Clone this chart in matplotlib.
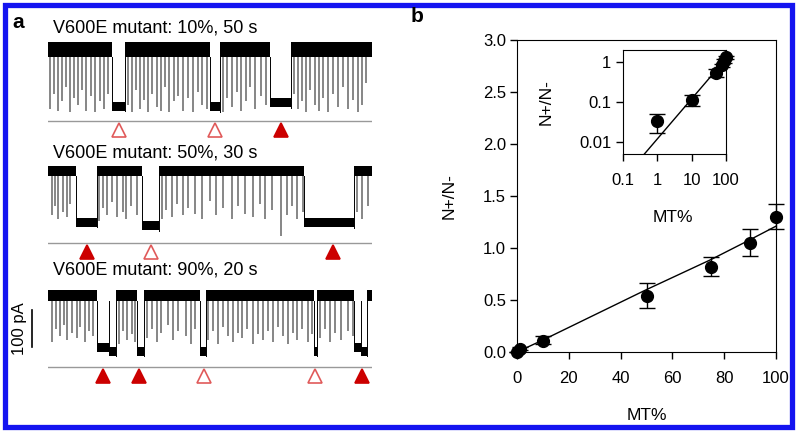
import numpy as np
import matplotlib.pyplot as plt
from matplotlib.patches import Rectangle

plt.rcParams['font.family'] = ['Liberation Sans', 'DejaVu Sans']

# ---------------- panel a: current traces ----------------
titles = ['V600E mutant: 10%, 50 s', 'V600E mutant: 50%, 30 s', 'V600E mutant: 90%, 20 s']
durations = [50, 30, 20]

# trace 1 (10 %)
t1_block_start = [9.9, 25.0, 34.3]
t1_block_end = [11.9, 26.5, 37.5]
t1_block_level = [-153, -154, -143]
t1_spike_t = [0.3, 0.9, 1.5, 2.2, 2.8, 3.4, 4.0, 4.6, 5.3, 5.9, 6.6, 7.3, 8.0, 8.6, 9.3,
              12.4, 13.0, 13.6, 14.2, 14.8, 15.4, 16.1, 16.8, 17.4, 18.0, 18.7, 19.4, 20.0,
              20.8, 21.6, 22.3, 23.1, 23.8, 24.5,
              27.0, 27.7, 28.4, 29.1, 29.8, 30.5, 31.2, 32.0, 32.8, 33.6,
              38.0, 38.6, 39.2, 39.8, 40.5, 41.2, 41.8, 42.5, 43.2, 44.0, 44.7, 45.5, 46.3,
              47.0, 47.8, 48.5, 49.0]
t1_spike_depth = [160, 120, 165, 140, 100, 170, 130, 150, 110, 165, 125, 170, 140, 160, 120,
                  150, 170, 110, 160, 135, 170, 120, 155, 165, 100, 170, 140, 125,
                  165, 130, 170, 115, 150, 160,
                  170, 130, 155, 115, 165, 140, 100, 160, 125, 150,
                  120, 160, 140, 170, 110, 150, 165, 130, 170, 120, 155, 100, 160,
                  135, 170, 150, 90]
t1_mark_t = [10.9, 25.75, 35.9]
t1_mark_filled = [False, False, True]

# trace 2 (50 %)
t2_block_start = [2.6, 8.7, 23.7]
t2_block_end = [4.5, 10.3, 28.3]
t2_block_level = [-138, -147, -140]
t2_spike_t = [0.4, 0.65, 0.95, 1.4, 1.75, 2.05,
              4.7, 5.1, 5.5, 5.9, 6.4, 6.9, 7.2, 7.7, 8.2,
              10.6, 10.9, 11.5, 11.9, 12.5, 13.0, 13.6, 14.3,
              15.0, 15.6, 16.2, 17.0, 17.6, 18.2, 19.0, 19.6, 20.1, 20.7, 21.6, 22.1,
              22.6, 23.1, 23.6,
              28.6, 29.1, 29.6]
t2_spike_depth = [120, 95, 130, 110, 125, 90,
                  135, 100, 120, 85, 125, 110, 130, 95, 120,
                  130, 105, 125, 90, 120, 100, 115, 130,
                  80, 120, 100, 130, 95, 115, 125, 90, 130, 105, 175, 120,
                  95, 130, 110,
                  110, 130, 95]
t2_mark_t = [3.6, 9.5, 26.4]
t2_mark_filled = [True, False, True]

# trace 3 (90 %)
t3_block_start = [3.0, 3.75, 5.5, 9.4, 16.4, 18.9, 19.3]
t3_block_end = [3.75, 4.2, 5.9, 9.75, 16.6, 19.3, 19.7]
t3_block_level = [-140, -150, -150, -150, -150, -140, -150]
t3_spike_t = [0.25, 0.5, 0.75, 1.0, 1.2, 1.5, 1.8, 2.0, 2.3, 2.5, 2.8,
              4.4, 4.6, 4.9, 5.2, 5.4,
              6.1, 6.4, 6.7, 7.0, 7.4, 7.7, 8.0, 8.5, 8.8, 9.1,
              9.9, 10.2, 10.5, 10.8, 11.1, 11.4, 11.7, 12.0, 12.3, 12.65, 12.95, 13.3,
              13.6, 13.9, 14.2, 14.5, 14.8, 15.1, 15.4, 15.7, 16.05, 16.3,
              16.8, 17.1, 17.4, 17.7, 18.1, 18.5, 18.8]
t3_spike_depth = [125, 90, 110, 80, 120, 100, 115, 85, 125, 95, 110,
                  130, 95, 120, 105, 125,
                  115, 90, 125, 100, 80, 120, 95, 110, 130, 90,
                  120, 95, 130, 85, 110, 125, 100, 115, 90, 130, 105, 120,
                  95, 125, 85, 110, 130, 100, 120, 90, 125, 105,
                  115, 90, 125, 100, 120, 95, 110]
t3_mark_t = [3.4, 5.6, 9.6, 16.5, 19.4]
t3_mark_filled = [True, True, False, False, True]

# ---------------- panel b: N+/N- vs MT% ----------------
mt = [0, 1, 10, 50, 75, 90, 100]
ratio = [0.0, 0.033, 0.11, 0.54, 0.82, 1.05, 1.30]
err_lo = [0.0, 0.016, 0.03, 0.12, 0.09, 0.13, 0.12]
err_hi = [0.0, 0.017, 0.04, 0.12, 0.09, 0.13, 0.12]
fit_mt = [0, 10, 50, 75, 90, 100]
fit_ratio = [0.0, 0.115, 0.60, 0.89, 1.08, 1.21]
inset_fit_mt = [0.42, 100]
inset_fit_ratio = [0.005, 1.21]

W, H = 800, 432
fig = plt.figure(figsize=(W / 100, H / 100), dpi=100)


def px_axes(x0, y0, x1, y1):
    return fig.add_axes([x0 / W, 1 - y1 / H, (x1 - x0) / W, (y1 - y0) / H])


PA_PER_PX = 2.7
BASE = -194
TRI = -218
RED = '#cc0000'
OPEN_RED = '#e05a5a'


def draw_trace(ax, dur, bs, be, bl, half, st, sd, mt_, mf):
    # open stretches between the blocking events
    t = 0
    for s, e, lvl in sorted(zip(bs, be, bl)):
        if s > t:
            ax.fill_between([t, s], -half, half, color='black', lw=0)
            ax.plot([s, s], [-half, lvl], color='black', lw=0.7)
        ax.fill_between([s, e], lvl - 12, lvl + 12, color='black', lw=0)
        t = max(t, e)
        ax.plot([e, e], [lvl - 14, -half], color='black', lw=0.7)
    if t < dur:
        ax.fill_between([t, dur], -half, half, color='black', lw=0)
    depth = -np.array(sd)
    ax.vlines(st, -half, depth, color='0.25', lw=1.1, alpha=0.8)
    ax.axhline(BASE, color='0.6', lw=1)
    for tt, filled in zip(mt_, mf):
        ax.plot(tt, TRI, '^', ms=10, mec=RED if filled else OPEN_RED,
                mfc=RED if filled else 'white', mew=1.2, clip_on=False)
    ax.set_xlim(0, dur)
    ax.set_ylim(-92 * PA_PER_PX, 12 * PA_PER_PX)
    ax.axis('off')


centers = [49.5, 171, 295.5]
halves = [20, 14, 15]
title_y = [28, 153, 270]
traces = [
    (t1_block_start, t1_block_end, t1_block_level, t1_spike_t, t1_spike_depth, t1_mark_t, t1_mark_filled),
    (t2_block_start, t2_block_end, t2_block_level, t2_spike_t, t2_spike_depth, t2_mark_t, t2_mark_filled),
    (t3_block_start, t3_block_end, t3_block_level, t3_spike_t, t3_spike_depth, t3_mark_t, t3_mark_filled),
]
trace_axes = []
for i, tr in enumerate(traces):
    c = centers[i]
    ax = px_axes(48, c - 12, 372, c + 92)
    draw_trace(ax, durations[i], *tr[:3], halves[i], *tr[3:])
    trace_axes.append(ax)
    fig.text(53 / W, 1 - title_y[i] / H, titles[i], fontsize=13, va='center', ha='left')

# 100 pA scale bar
ax3 = trace_axes[2]
ax3.plot([-1.0, -1.0], [-40, -140], color='black', lw=1.2, clip_on=False)
ax3.text(-1.75, -90, '100 pA', rotation=90, fontsize=12, ha='center', va='center')

fig.text(18 / W, 1 - 22 / H, 'a', fontsize=15, weight='bold', ha='center', va='center')
fig.text(417 / W, 1 - 17 / H, 'b', fontsize=15, weight='bold', ha='center', va='center')

# ---------------- main scatter ----------------
axb = px_axes(517, 40, 776, 352)
axb.plot(fit_mt, fit_ratio, color='black', lw=1)
cont = axb.errorbar(mt, ratio, yerr=[err_lo, err_hi], fmt='o', color='black', ms=8.5,
                    capsize=6, elinewidth=1, capthick=1)
for art in cont.get_children():
    art.set_clip_on(False)
axb.set_xlim(0, 100)
axb.set_ylim(0, 3)
axb.set_xticks([0, 20, 40, 60, 80, 100])
axb.set_yticks([0, 0.5, 1.0, 1.5, 2.0, 2.5, 3.0])
axb.set_yticklabels(['0.0', '0.5', '1.0', '1.5', '2.0', '2.5', '3.0'])
axb.tick_params(direction='out', length=5, width=1, labelsize=12)
axb.tick_params(axis='x', pad=9)
axb.tick_params(axis='y', pad=3)
axb.set_xlabel('MT%', fontsize=12.5)
axb.set_ylabel('N+/N-', fontsize=12.5)
axb.xaxis.set_label_coords(0.5, -0.18)
axb.yaxis.set_label_coords(-0.232, 0.5)

# ---------------- inset (log-log) ----------------
axi = px_axes(623, 50, 726, 154)
axi.set_xscale('log')
axi.set_yscale('log')
axi.plot(inset_fit_mt, inset_fit_ratio, color='black', lw=1)
cont = axi.errorbar(mt[1:], ratio[1:], yerr=[err_lo[1:], err_hi[1:]], fmt='o', color='black',
                    ms=8.5, capsize=6, elinewidth=1, capthick=1)
for art in cont.get_children():
    art.set_clip_on(False)
axi.set_xlim(0.1, 100)
axi.set_ylim(0.005, 2)
axi.minorticks_off()
axi.set_xticks([0.1, 1, 10, 100])
axi.set_xticklabels(['0.1', '1', '10', '100'])
axi.set_yticks([0.01, 0.1, 1])
axi.set_yticklabels(['0.01', '0.1', '1'])
axi.tick_params(direction='out', length=5, width=1, labelsize=12)
axi.tick_params(axis='x', pad=9)
axi.set_xlabel('MT%', fontsize=12.5)
axi.set_ylabel('N+/N-', fontsize=12.5)
axi.xaxis.set_label_coords(0.485, -0.54)
axi.yaxis.set_label_coords(-0.67, 0.5)

# blue frame round the whole figure
fig.patches.append(Rectangle((4.5 / W, 1 - 426.5 / H), 787 / W, 422 / H, transform=fig.transFigure,
                             fill=False, ec='#1414f0', lw=3.8))

fig.savefig('out.png', dpi=100)
